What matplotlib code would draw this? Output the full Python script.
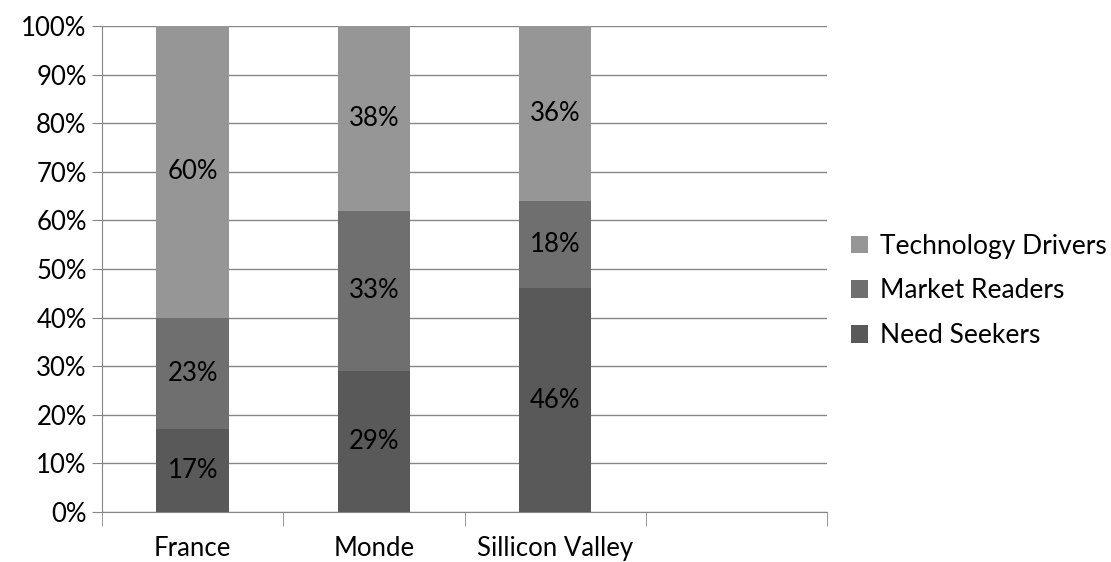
import matplotlib.pyplot as plt
import numpy as np

plt.rcParams["font.family"] = ["Lato", "DejaVu Sans"]

categories = ["France", "Monde", "Sillicon Valley"]
need_seekers = [17, 29, 46]
market_readers = [23, 33, 18]
tech_drivers = [60, 38, 36]
y_ticks = [0, 10, 20, 30, 40, 50, 60, 70, 80, 90, 100]

series = [
    ("Need Seekers", need_seekers, "#595959"),
    ("Market Readers", market_readers, "#6f6f6f"),
    ("Technology Drivers", tech_drivers, "#969696"),
]

fig = plt.figure(figsize=(11.11, 5.62), dpi=100)
ax = fig.add_axes([0.0918, 0.089, 0.6526, 0.8647])

x = np.arange(len(categories))
bottom = np.zeros(len(categories))
handles = []
for name, vals, col in series:
    bars = ax.bar(x, vals, 0.4, bottom=bottom, color=col, label=name, zorder=3)
    handles.append(bars)
    for xi, b, v in zip(x, bottom, vals):
        ax.text(xi, b + v / 2, f"{v}%", ha="center", va="center",
                fontsize=18.5, color="black", zorder=4)
    bottom += np.array(vals)

ax.set_xlim(-0.5, 3.5)
ax.set_ylim(0, 100)
ax.set_yticks(y_ticks)
ax.set_yticklabels([f"{t}%" for t in y_ticks], fontsize=18.5)
ax.set_xticks(x)
ax.set_xticklabels(categories, fontsize=18.5)
ax.tick_params(axis="x", which="major", length=0, pad=17)
ax.set_xticks(np.arange(-0.5, 4.0, 1.0), minor=True)
ax.tick_params(axis="x", which="minor", length=10, color="#868686")
ax.tick_params(axis="y", length=7, color="#868686", pad=4)
ax.yaxis.grid(True, color="#868686", linewidth=1, zorder=0)

for s in ["top", "right"]:
    ax.spines[s].set_visible(False)
for s in ["left", "bottom"]:
    ax.spines[s].set_color("#868686")

ax.legend(handles[::-1], [s[0] for s in series][::-1], loc="center left",
          bbox_to_anchor=(1.0, 0.455), frameon=False, fontsize=19,
          handlelength=0.65, handleheight=0.65, handletextpad=0.45,
          labelspacing=0.75)

fig.savefig("out.png", dpi=100)
